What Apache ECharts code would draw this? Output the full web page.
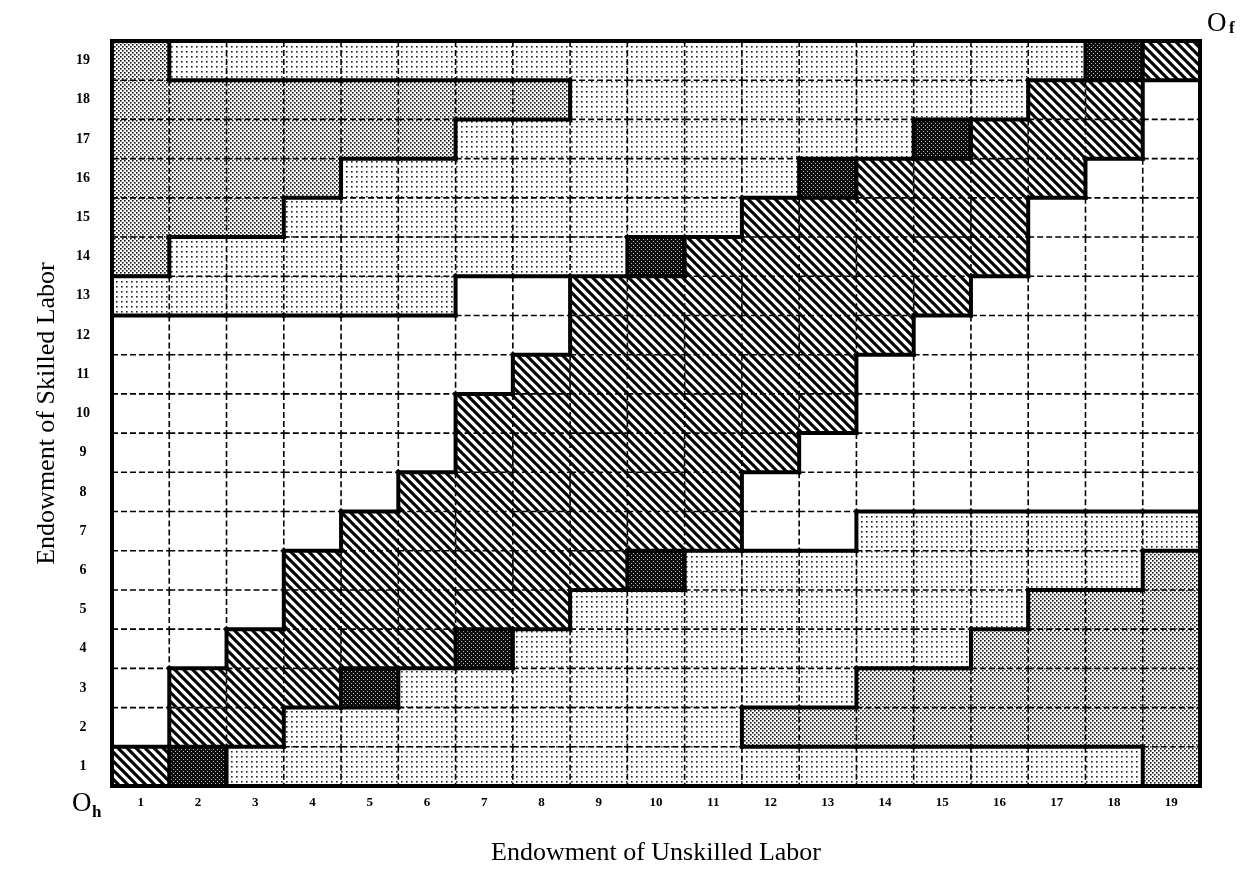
<!DOCTYPE html>
<html>
<head>
<meta charset="utf-8">
<title>Endowment grid</title>
<script src="https://cdn.jsdelivr.net/npm/echarts@6/dist/echarts.min.js"></script>
<style>
  html, body { margin: 0; padding: 0; background: #fff; }
  #chart { width: 1251px; height: 878px; }
</style>
</head>
<body>
<div id="chart"></div>
<script>
// tick labels
const unskilledLabels = ["1","2","3","4","5","6","7","8","9","10","11","12","13","14","15","16","17","18","19"]
const skilledLabels = ["1","2","3","4","5","6","7","8","9","10","11","12","13","14","15","16","17","18","19"]

// one string per row of the grid, row 1 (bottom) first, column 1 on the left
// W = blank, L = light dots, M = dense dots, H = hatched, D = dark
const cellRows = [
  "HDLLLLLLLLLLLLLLLLM", // 1
  "WHHLLLLLLLLMMMMMMMM", // 2
  "WHHHDLLLLLLLLMMMMMM", // 3
  "WWHHHHDLLLLLLLLMMMM", // 4
  "WWWHHHHHLLLLLLLLMMM", // 5
  "WWWHHHHHHDLLLLLLLLM", // 6
  "WWWWHHHHHHHWWLLLLLL", // 7
  "WWWWWHHHHHHWWWWWWWW", // 8
  "WWWWWWHHHHHHWWWWWWW", // 9
  "WWWWWWHHHHHHHWWWWWW", // 10
  "WWWWWWWHHHHHHWWWWWW", // 11
  "WWWWWWWWHHHHHHWWWWW", // 12
  "LLLLLLWWHHHHHHHWWWW", // 13
  "MLLLLLLLLDHHHHHHWWW", // 14
  "MMMLLLLLLLLHHHHHWWW", // 15
  "MMMMLLLLLLLLDHHHHWW", // 16
  "MMMMMMLLLLLLLLDHHHW", // 17
  "MMMMMMMMLLLLLLLLHHW", // 18
  "MLLLLLLLLLLLLLLLLDH"  // 19
]

const cells = []
cellRows.forEach((row, r) => {
  for (let c = 0; c < row.length; c++) cells.push([c, r])
})

// small canvas tiles used as fill patterns
function makeTile(w, h, draw) {
  const cv = document.createElement("canvas")
  cv.width = w
  cv.height = h
  const ctx = cv.getContext("2d")
  draw(ctx, w, h)
  return cv
}

const lightTile = makeTile(5, 5, (ctx, w, h) => {
  ctx.fillStyle = "#fff"
  ctx.fillRect(0, 0, w, h)
  ctx.fillStyle = "#222"
  ctx.fillRect(1, 1, 1.6, 1.6)
})
const mediumTile = makeTile(4, 4, (ctx, w, h) => {
  ctx.fillStyle = "#fff"
  ctx.fillRect(0, 0, w, h)
  ctx.fillStyle = "#111"
  ctx.fillRect(0, 0, 1.6, 1.6)
  ctx.fillRect(2, 2, 1.6, 1.6)
})
const darkTile = makeTile(4, 4, (ctx, w, h) => {
  ctx.fillStyle = "#0d0d0d"
  ctx.fillRect(0, 0, w, h)
  ctx.fillStyle = "#bbb"
  ctx.fillRect(1, 1, 1, 1)
  ctx.fillRect(3, 3, 1, 1)
})
const hatchTile = makeTile(9, 9, (ctx, w, h) => {
  ctx.fillStyle = "#fff"
  ctx.fillRect(0, 0, w, h)
  ctx.strokeStyle = "#000"
  ctx.lineWidth = 3.1
  for (let k = -1; k <= 1; k++) {
    ctx.beginPath()
    ctx.moveTo(k * w - 2, -2)
    ctx.lineTo(k * w + w + 2, h + 2)
    ctx.stroke()
  }
})

const fills = {
  L: { image: lightTile, repeat: "repeat" },
  M: { image: mediumTile, repeat: "repeat" },
  D: { image: darkTile, repeat: "repeat" },
  H: { image: hatchTile, repeat: "repeat" }
}

const BOLD = 4
const THIN = 1.6

function edge(x1, y1, x2, y2, bold) {
  return {
    type: "line",
    z2: bold ? 3 : 2,
    shape: { x1, y1, x2, y2 },
    style: bold
      ? { stroke: "#000", lineWidth: BOLD, lineCap: "square" }
      : { stroke: "#000", lineWidth: THIN, lineDash: [6, 3] }
  }
}

function renderCell(params, api) {
  const c = api.value(0)
  const r = api.value(1)
  const type = cellRows[r][c]
  const center = api.coord([c, r])
  const size = api.size([1, 1])
  const x0 = center[0] - size[0] / 2
  const x1 = center[0] + size[0] / 2
  const y0 = center[1] - size[1] / 2
  const y1 = center[1] + size[1] / 2
  const children = []
  if (type !== "W") {
    children.push({
      type: "rect",
      z2: 1,
      shape: { x: x0, y: y0, width: size[0], height: size[1] },
      style: { fill: fills[type] }
    })
  }
  const last = cellRows[r].length - 1
  // right edge
  const right = c < last ? cellRows[r][c + 1] : null
  children.push(edge(x1, y0, x1, y1, right === null || right !== type))
  // top edge
  const above = r < cellRows.length - 1 ? cellRows[r + 1][c] : null
  children.push(edge(x0, y0, x1, y0, above === null || above !== type))
  // outer left / bottom
  if (c === 0) children.push(edge(x0, y0, x0, y1, true))
  if (r === 0) children.push(edge(x0, y1, x1, y1, true))
  return { type: "group", children }
}

const myChart = echarts.init(document.getElementById("chart"))

myChart.setOption({
  animation: false,
  backgroundColor: "#fff",
  grid: { left: 112, right: 51, top: 41, bottom: 92 },
  xAxis: {
    type: "category",
    data: unskilledLabels,
    name: "Endowment of Unskilled Labor",
    nameLocation: "middle",
    nameGap: 54,
    nameTextStyle: { fontFamily: "Liberation Serif", fontSize: 26, color: "#000" },
    axisLine: { show: false },
    axisTick: { show: false },
    splitLine: { show: false },
    axisLabel: {
      margin: 10,
      interval: 0,
      fontFamily: "Liberation Serif",
      fontWeight: "bold",
      fontSize: 13,
      color: "#000"
    }
  },
  yAxis: {
    type: "category",
    data: skilledLabels,
    name: "Endowment of Skilled Labor",
    nameLocation: "middle",
    nameGap: 52,
    nameTextStyle: { fontFamily: "Liberation Serif", fontSize: 26, color: "#000" },
    axisLine: { show: false },
    axisTick: { show: false },
    splitLine: { show: false },
    axisLabel: {
      margin: 29,
      align: "center",
      interval: 0,
      fontFamily: "Liberation Serif",
      fontWeight: "bold",
      fontSize: 14,
      color: "#000"
    }
  },
  graphic: [
    { type: "text", left: 72, top: 790, style: { text: "O", font: "27px 'Liberation Serif'", fill: "#000" } },
    { type: "text", left: 92, top: 804, style: { text: "h", font: "bold 17px 'Liberation Serif'", fill: "#000" } },
    { type: "text", left: 1207, top: 10, style: { text: "O", font: "27px 'Liberation Serif'", fill: "#000" } },
    { type: "text", left: 1229, top: 20, style: { text: "f", font: "bold 17px 'Liberation Serif'", fill: "#000" } }
  ],
  series: [
    {
      type: "custom",
      silent: true,
      renderItem: renderCell,
      encode: { x: 0, y: 1 },
      data: cells
    }
  ]
})

window.addEventListener("resize", () => {
  myChart.resize()
})
</script>
</body>
</html>
